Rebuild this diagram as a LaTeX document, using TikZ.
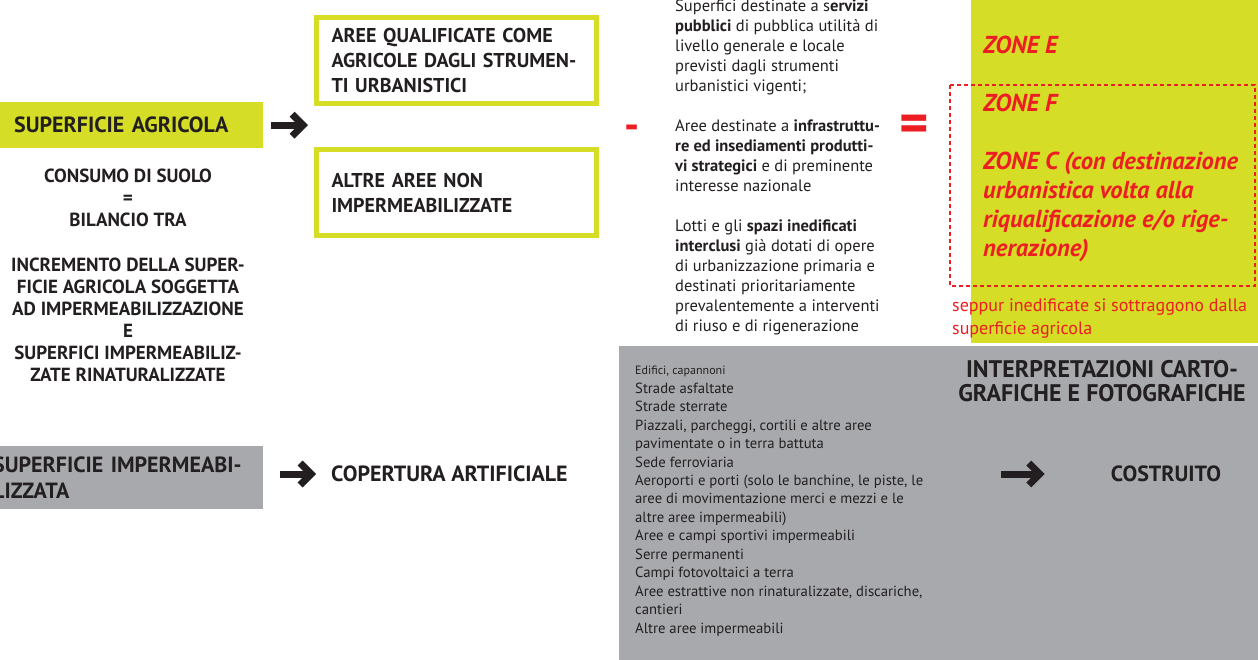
\documentclass[tikz,border=0pt]{standalone}
\usepackage{fontspec}
\setmainfont{PT Sans}
\usetikzlibrary{arrows.meta}
\definecolor{agrigreen}{RGB}{213,221,38}
\definecolor{impgrey}{RGB}{167,169,172}
\definecolor{zonered}{RGB}{236,30,36}
\definecolor{ink}{RGB}{35,31,32}

\begin{document}
\begin{tikzpicture}[x=1pt,y=-1pt,inner sep=0pt,text=ink,node distance=132pt,
    bigarrow/.style={line width=7pt,draw=ink,-{Straight Barb[length=11pt,width=22pt,line cap=butt,line join=miter]}},
    head/.style={font=\bfseries\fontsize{22}{26}\selectfont},
    label node/.style={font=\bfseries\fontsize{19}{22}\selectfont,align=center},
    box node/.style={draw=agrigreen,line width=5pt,minimum height=86pt,inner xsep=15pt,text width=250pt,align=left,font=\bfseries\fontsize{20}{25}\selectfont},
    body/.style={font=\fontsize{16.5}{20}\selectfont,align=left},
    zone/.style={text=zonered,font=\bfseries\itshape\fontsize{24.5}{29}\selectfont,align=left},
    sign/.style={text=zonered,font=\bfseries\fontsize{42}{42}\selectfont}]

    \useasboundingbox (0,0) rectangle (1258,660);
    \fill[agrigreen] (971,0) rectangle (1258,343);
    \fill[impgrey] (619,346) rectangle (1258,660);
    \draw[zonered,line width=1.2pt,dash pattern=on 4pt off 3pt] (950,85) rectangle (1255,286);

    \node[head,fill=agrigreen,anchor=north west,minimum height=46pt,inner xsep=14pt,text width=235pt,align=left] (1) at (0,102) {SUPERFICIE AGRICOLA};
    \node[box node] (2) at (456.5,60.5) {AREE QUALIFICATE COME\\AGRICOLE DAGLI STRUMEN-\\TI URBANISTICI};
    \node[box node,below of=2] (3) {ALTRE AREE NON\\IMPERMEABILIZZATE};
    \node[label node] (4) at (128,198) {CONSUMO DI SUOLO\\=\\BILANCIO TRA};
    \node[label node] (5) at (128,320) {INCREMENTO DELLA SUPER-\\FICIE AGRICOLA SOGGETTA\\AD IMPERMEABILIZZAZIONE\\E\\SUPERFICI IMPERMEABILIZ-\\ZATE RINATURALIZZATE};
    \node[head,fill=impgrey,anchor=north west,minimum height=63pt,inner xsep=13pt,text width=257pt,align=left] (6) at (-20,446) {SUPERFICIE IMPERMEABI-\\LIZZATA};
    \node[head,anchor=west] (7) at (331,474) {COPERTURA ARTIFICIALE};

    \node[sign] (8) at (632,132) {-};
    \node[body,anchor=north west] (9) at (675,0) {Superfici destinate a s\textbf{ervizi}\\
        \textbf{pubblici} di pubblica utilità di\\
        livello generale e locale\\
        previsti dagli strumenti\\
        urbanistici vigenti;\\[20pt]
        Aree destinate a \textbf{infrastruttu-}\\
        \textbf{re ed insediamenti produtti-}\\
        \textbf{vi strategici} e di preminente\\
        interesse nazionale\\[20pt]
        Lotti e gli \textbf{spazi inedificati}\\
        \textbf{interclusi} già dotati di opere\\
        di urbanizzazione primaria e\\
        destinati prioritariamente\\
        prevalentemente a interventi\\
        di riuso e di rigenerazione};
    \node[sign,font=\bfseries\fontsize{56}{56}\selectfont] (10) at (914,129) {=};

    \node[zone,anchor=west] (12) at (983,45) {ZONE E};
    \node[zone,anchor=north west] (13) at (983,94) {ZONE F\\[29pt]ZONE C (con destinazione\\urbanistica volta alla\\riqualificazione e/o rige-\\nerazione)};
    \node[text=zonered,anchor=north west,align=left,font=\fontsize{18}{23}\selectfont] (15) at (952,299) {seppur inedificate si sottraggono dalla\\superficie agricola};

    \node[anchor=north west,align=left,font=\fontsize{14.7}{18.46}\selectfont] (17) at (635,366) {{\fontsize{12}{18.46}\selectfont Edifici, capannoni}\\
        Strade asfaltate\\
        Strade sterrate\\
        Piazzali, parcheggi, cortili e altre aree\\
        pavimentate o in terra battuta\\
        Sede ferroviaria\\
        Aeroporti e porti (solo le banchine, le piste, le\\
        aree di movimentazione merci e mezzi e le\\
        altre aree impermeabili)\\
        Aree e campi sportivi impermeabili\\
        Serre permanenti\\
        Campi fotovoltaici a terra\\
        Aree estrattive non rinaturalizzate, discariche,\\
        cantieri\\
        Altre aree impermeabili};
    \node[align=center,font=\bfseries\fontsize{24}{24}\selectfont] (18) at (1102,381) {INTERPRETAZIONI CARTO-\\GRAFICHE E FOTOGRAFICHE};
    \node[head] (19) at (1166,474) {COSTRUITO};
    \coordinate (c) at (1001,474);

    \path
        (1.east) edge[bigarrow,shorten <=8pt,shorten >=6pt] (1.east -| 2.west)
        (6.east |- 7.west) edge[bigarrow,shorten <=17pt,shorten >=15pt] (7.west)
        (c) edge[bigarrow,shorten >=66pt] (19.west)
    ;

\end{tikzpicture}
\end{document}
